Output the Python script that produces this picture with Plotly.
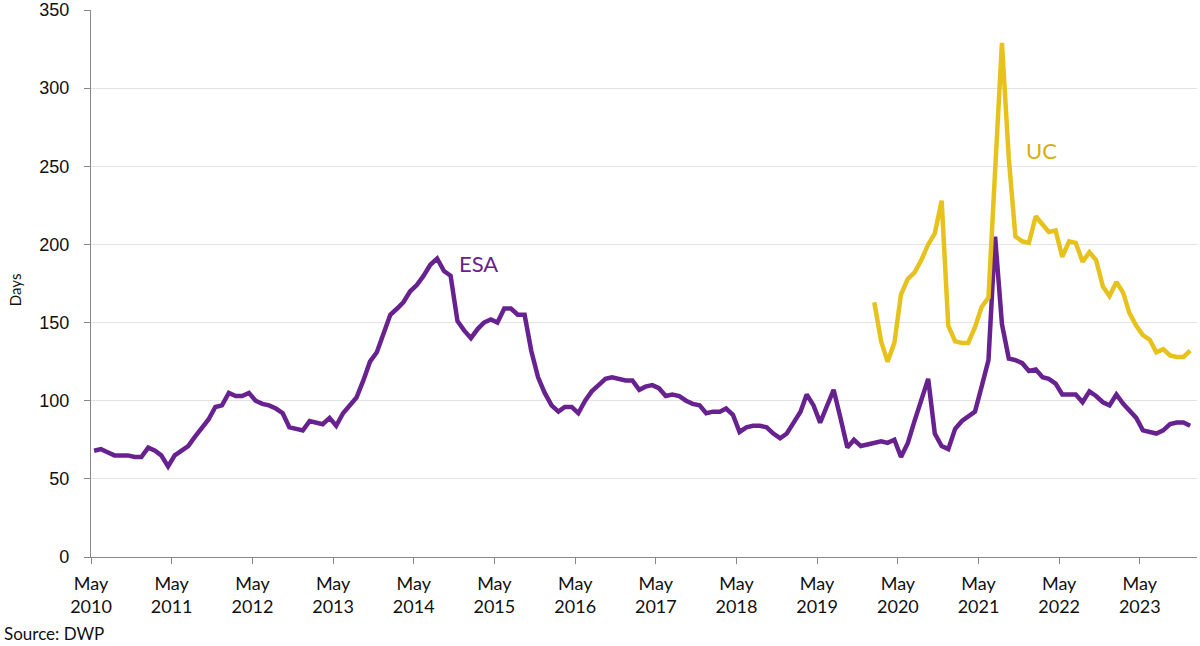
import pandas as pd
import plotly.graph_objects as go

# Monthly observations, May 2010 .. Dec 2023 (days)
start_month = "2010-05-01"
n_months = 164

esa_days = [
    68, 69, 67, 65, 65, 65, 64, 64, 70, 68, 65, 58,
    65, 68, 71, 77, 83, 88, 96, 97, 105, 103, 103, 105,
    100, 98, 97, 95, 92, 83, 82, 81, 87, 86, 85, 89,
    84, 92, 97, 102, 113, 125, 131, 142, 155, 159, 163, 170,
    174, 180, 187, 191, 183, 180, 151, 145, 140, 146, 150, 152,
    150, 159, 159, 155, 155, 132, 115, 105, 97, 93, 96, 96,
    92, 100, 106, 110, 114, 115, 114, 113, 113, 107, 109, 110,
    108, 103, 104, 103, 100, 98, 97, 92, 93, 93, 95, 91,
    80, 83, 84, 84, 83, 79, 76, 79, 86, 93, 104, 97,
    86, 97, 107, 89, 70, 75, 71, 72, 73, 74, 73, 75,
    64, 73, 87, 101, 114, 79, 71, 69, 82, 87, 90, 93,
    109, 126, 205, 149, 127, 126, 124, 119, 120, 115, 114, 111,
    104, 104, 104, 99, 106, 103, 99, 97, 104, 98, 94, 89,
    81, 80, 79, 81, 85, 86, 86, 84,
]

uc_start_index = 116
uc_days = [
    163, 138, 125, 137, 168, 178, 182, 190, 200, 207,
    228, 148, 138, 137, 137, 147, 160, 166, 247, 329,
    255, 205, 202, 201, 218, 213, 208, 209, 192, 202,
    201, 189, 195, 190, 173, 167, 176, 169, 156, 148,
    142, 139, 131, 133, 129, 128, 128, 132,
]

tick_years = list(range(2010, 2024))
tick_dates = [f"{y}-05-01" for y in tick_years]
tick_text = [f"May<br>{y}" for y in tick_years]
y_ticks = [0, 50, 100, 150, 200, 250, 300, 350]

dates = pd.date_range(start_month, periods=n_months, freq="MS") + pd.Timedelta(days=14)
uc_full = [None] * uc_start_index + uc_days

ESA_COLOR = "#68228f"
UC_COLOR = "#e8c21c"

W, H = 1200, 646
ML, MR, MT, MB = 91, 3, 10, 89.3
plot_w = W - ML - MR
plot_h = H - MT - MB
x_axis_y = H - MB

fig = go.Figure()
fig.add_trace(go.Scatter(x=dates, y=esa_days, mode="lines", name="ESA",
                         line=dict(color=ESA_COLOR, width=4.5)))
fig.add_trace(go.Scatter(x=dates, y=uc_full, mode="lines", name="UC",
                         line=dict(color=UC_COLOR, width=4.5), connectgaps=False))

fig.add_annotation(x="2015-02-20", y=188, text="ESA", showarrow=False,
                   font=dict(family="Lato, sans-serif", size=22, color=ESA_COLOR))
fig.add_annotation(x="2022-02-10", y=260, text="UC", showarrow=False,
                   font=dict(family="Lato, sans-serif", size=22, color="#d9ad12"))

fig.add_annotation(xref="paper", yref="paper", x=-(ML - 2) / plot_w, y=(x_axis_y - 633) / plot_h,
                   xanchor="left", yanchor="middle", text="Source: DWP", showarrow=False,
                   font=dict(family="Lato, sans-serif", size=17, color="#111111"))
fig.add_annotation(xref="paper", yref="paper", x=-(ML - 15) / plot_w, y=(x_axis_y - 290) / plot_h,
                   xanchor="center", yanchor="middle", text="Days", textangle=-90,
                   showarrow=False,
                   font=dict(family="Lato, sans-serif", size=15, color="#111111"))

fig.update_layout(
    width=W, height=H,
    margin=dict(l=ML, r=MR, t=MT, b=MB, autoexpand=False),
    paper_bgcolor="white", plot_bgcolor="white",
    showlegend=False,
)
fig.update_xaxes(
    range=["2010-05-01", "2024-01-15"], automargin=False,
    tickmode="array", tickvals=tick_dates, ticktext=tick_text,
    showgrid=False, showline=True, linecolor="#888888", linewidth=1.2,
    ticks="outside", ticklen=6, tickcolor="#888888",
    tickfont=dict(family="Lato, sans-serif", size=18, color="#111111"),
    ticklabelstandoff=4,
    zeroline=False,
)
fig.update_yaxes(
    range=[0, 350], tickmode="array", tickvals=y_ticks, automargin=False,
    showgrid=True, gridcolor="#e3e3e3", gridwidth=1,
    showline=True, linecolor="#888888", linewidth=1.2,
    ticks="outside", ticklen=6, tickcolor="#888888",
    tickfont=dict(family="Liberation Sans, Arial, sans-serif", size=18, color="#111111"),
    ticklabelstandoff=11, ticklabeloverflow="allow",
    zeroline=False,
)

fig.write_html("out.html", config={"displayModeBar": False},
               post_script="document.body.style.margin='0px';")
